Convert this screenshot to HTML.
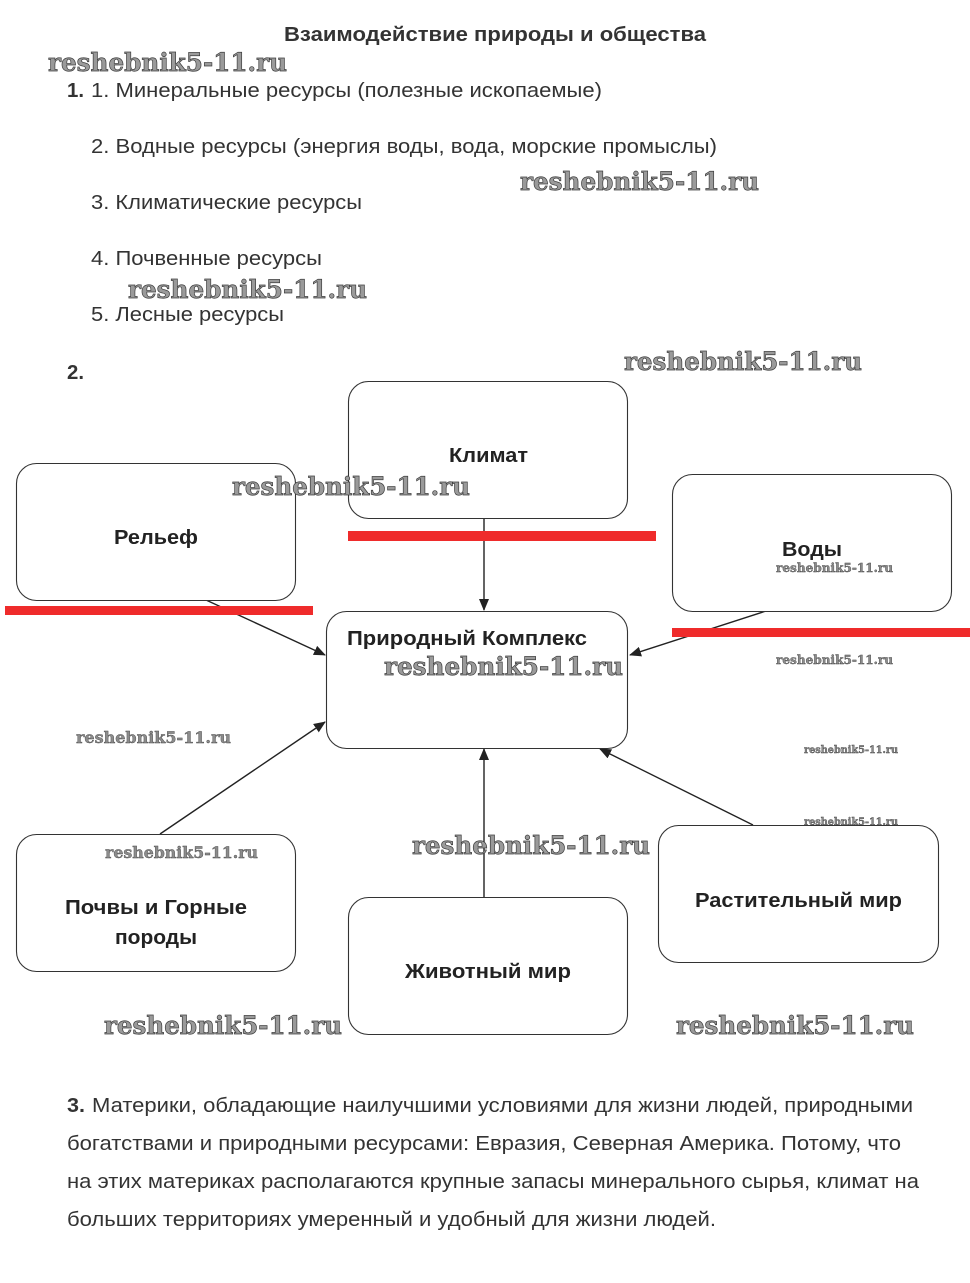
<!DOCTYPE html>
<html>
<head>
<meta charset="utf-8">
<style>
html,body{margin:0;padding:0;background:#fff;}
svg{display:block;}
.t{font-family:"Liberation Sans","Noto Sans CJK SC",sans-serif;fill:#333;font-size:20px;}
.b{font-weight:bold;}
.lbl{font-family:"Liberation Sans","Noto Sans CJK SC",sans-serif;fill:#222;font-size:20px;font-weight:bold;}
.wm{font-family:"DejaVu Serif","Liberation Serif",serif;font-weight:bold;fill:#9a9a9a;stroke:#3c3c3c;stroke-width:0.7;}
.wm2{font-family:"DejaVu Serif","Liberation Serif",serif;font-weight:bold;fill:#8c8c8c;stroke:#444;stroke-width:0.4;}
.box{fill:#fff;stroke:#333;stroke-width:1.1;}
.ln{stroke:#222;stroke-width:1.4;fill:none;}
</style>
</head>
<body>
<svg width="970" height="1283" viewBox="0 0 970 1283" xmlns="http://www.w3.org/2000/svg">
<defs>
<marker id="a" markerWidth="12" markerHeight="10" refX="11" refY="5" orient="auto" markerUnits="userSpaceOnUse">
<path d="M0,0 L12,5 L0,10 z" fill="#222"/>
</marker>
</defs>
<rect width="970" height="1283" fill="#fff"/>

<!-- Title -->
<text class="t b" x="284" y="41" font-size="19" textLength="422" lengthAdjust="spacingAndGlyphs">Взаимодействие природы и общества</text>

<!-- Section 1 -->
<text class="t b" x="67" y="97" textLength="17" lengthAdjust="spacingAndGlyphs">1.</text>
<text class="t" x="91" y="97" textLength="511" lengthAdjust="spacingAndGlyphs">1. Минеральные ресурсы (полезные ископаемые)</text>
<text class="t" x="91" y="153" textLength="626" lengthAdjust="spacingAndGlyphs">2. Водные ресурсы (энергия воды, вода, морские промыслы)</text>
<text class="t" x="91" y="209" textLength="271" lengthAdjust="spacingAndGlyphs">3. Климатические ресурсы</text>
<text class="t" x="91" y="265" textLength="231" lengthAdjust="spacingAndGlyphs">4. Почвенные ресурсы</text>
<text class="t" x="91" y="321" textLength="193" lengthAdjust="spacingAndGlyphs">5. Лесные ресурсы</text>

<!-- Section 2 -->
<text class="t b" x="67" y="379" textLength="17" lengthAdjust="spacingAndGlyphs">2.</text>

<!-- connectors -->
<line class="ln" x1="484" y1="518" x2="484" y2="610" marker-end="url(#a)"/>
<line class="ln" x1="206" y1="600" x2="325" y2="655" marker-end="url(#a)"/>
<line class="ln" x1="766" y1="611" x2="630" y2="655" marker-end="url(#a)"/>
<line class="ln" x1="160" y1="834" x2="325" y2="722" marker-end="url(#a)"/>
<line class="ln" x1="484" y1="897" x2="484" y2="749" marker-end="url(#a)"/>
<line class="ln" x1="753" y1="825" x2="600" y2="749" marker-end="url(#a)"/>

<!-- boxes -->
<rect class="box" x="348.5" y="381.5" width="279" height="137" rx="20"/>
<rect class="box" x="16.5" y="463.5" width="279" height="137" rx="20"/>
<rect class="box" x="672.5" y="474.5" width="279" height="137" rx="20"/>
<rect class="box" x="326.5" y="611.5" width="301" height="137" rx="20"/>
<rect class="box" x="16.5" y="834.5" width="279" height="137" rx="20"/>
<rect class="box" x="348.5" y="897.5" width="279" height="137" rx="20"/>
<rect class="box" x="658.5" y="825.5" width="280" height="137" rx="20"/>

<!-- box labels -->
<text class="lbl" x="449" y="462" textLength="79" lengthAdjust="spacingAndGlyphs">Климат</text>
<text class="lbl" x="114" y="544" textLength="84" lengthAdjust="spacingAndGlyphs">Рельеф</text>
<text class="lbl" x="782" y="556" font-size="21" textLength="60" lengthAdjust="spacingAndGlyphs">Воды</text>
<text class="lbl" x="347" y="645" textLength="240" lengthAdjust="spacingAndGlyphs">Природный Комплекс</text>
<text class="lbl" x="65" y="914" textLength="182" lengthAdjust="spacingAndGlyphs">Почвы и Горные</text>
<text class="lbl" x="115" y="944" textLength="82" lengthAdjust="spacingAndGlyphs">породы</text>
<text class="lbl" x="405" y="978" textLength="166" lengthAdjust="spacingAndGlyphs">Животный мир</text>
<text class="lbl" x="695" y="907" textLength="207" lengthAdjust="spacingAndGlyphs">Растительный мир</text>

<!-- red lines -->
<rect x="348" y="531" width="308" height="10" fill="#ef2b2b"/>
<rect x="5" y="606" width="308" height="9" fill="#ef2b2b"/>
<rect x="672" y="628" width="298" height="9" fill="#ef2b2b"/>

<!-- Section 3 -->
<text class="t b" x="67" y="1112" textLength="18" lengthAdjust="spacingAndGlyphs">3.</text>
<text class="t" x="92" y="1112" textLength="821" lengthAdjust="spacingAndGlyphs">Материки, обладающие наилучшими условиями для жизни людей, природными</text>
<text class="t" x="67" y="1150" textLength="834" lengthAdjust="spacingAndGlyphs">богатствами и природными ресурсами: Евразия, Северная Америка. Потому, что</text>
<text class="t" x="67" y="1188" textLength="852" lengthAdjust="spacingAndGlyphs">на этих материках располагаются крупные запасы минерального сырья, климат на</text>
<text class="t" x="67" y="1226" textLength="649" lengthAdjust="spacingAndGlyphs">больших территориях умеренный и удобный для жизни людей.</text>

<!-- watermarks large -->
<text class="wm" x="48" y="71" font-size="25" textLength="239" lengthAdjust="spacingAndGlyphs">reshebnik5-11.ru</text>
<text class="wm" x="520" y="190" font-size="25" textLength="239" lengthAdjust="spacingAndGlyphs">reshebnik5-11.ru</text>
<text class="wm" x="128" y="298" font-size="25" textLength="239" lengthAdjust="spacingAndGlyphs">reshebnik5-11.ru</text>
<text class="wm" x="624" y="370" font-size="25" textLength="238" lengthAdjust="spacingAndGlyphs">reshebnik5-11.ru</text>
<text class="wm" x="232" y="495" font-size="25" textLength="238" lengthAdjust="spacingAndGlyphs">reshebnik5-11.ru</text>
<text class="wm" x="384" y="675" font-size="25" textLength="239" lengthAdjust="spacingAndGlyphs">reshebnik5-11.ru</text>
<text class="wm" x="412" y="854" font-size="25" textLength="238" lengthAdjust="spacingAndGlyphs">reshebnik5-11.ru</text>
<text class="wm" x="104" y="1034" font-size="25" textLength="238" lengthAdjust="spacingAndGlyphs">reshebnik5-11.ru</text>
<text class="wm" x="676" y="1034" font-size="25" textLength="238" lengthAdjust="spacingAndGlyphs">reshebnik5-11.ru</text>

<!-- watermarks medium/small -->
<text class="wm2" x="76" y="743" font-size="16" textLength="155" lengthAdjust="spacingAndGlyphs">reshebnik5-11.ru</text>
<text class="wm2" x="105" y="858" font-size="16" textLength="153" lengthAdjust="spacingAndGlyphs">reshebnik5-11.ru</text>
<text class="wm2" x="776" y="572" font-size="12" textLength="117" lengthAdjust="spacingAndGlyphs">reshebnik5-11.ru</text>
<text class="wm2" x="776" y="664" font-size="12" textLength="117" lengthAdjust="spacingAndGlyphs">reshebnik5-11.ru</text>
<text class="wm2" x="804" y="753" font-size="10" textLength="94" lengthAdjust="spacingAndGlyphs">reshebnik5-11.ru</text>
<text class="wm2" x="804" y="825" font-size="10" textLength="94" lengthAdjust="spacingAndGlyphs">reshebnik5-11.ru</text>
</svg>
</body>
</html>
